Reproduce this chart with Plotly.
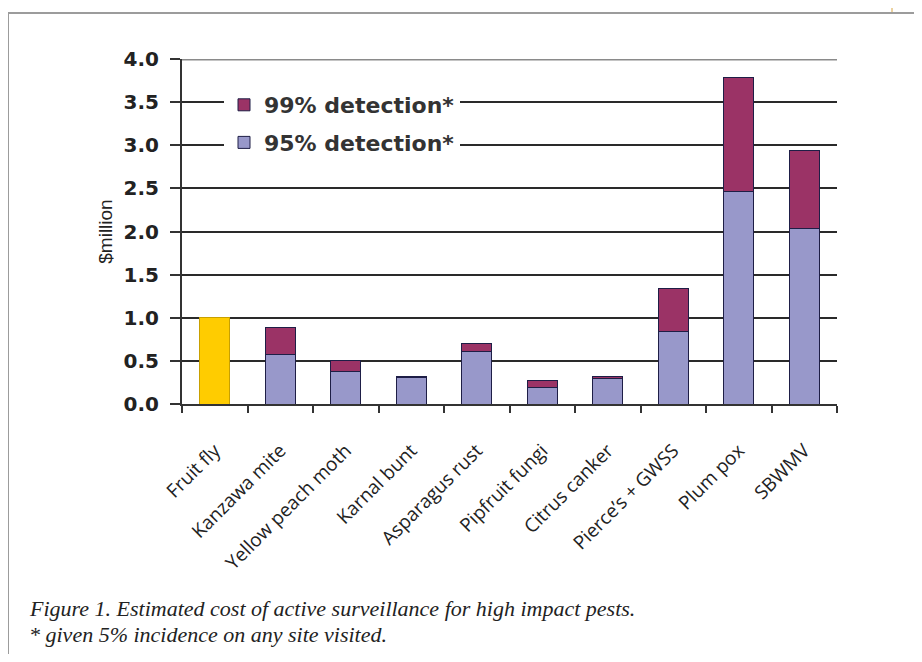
import plotly.graph_objects as go

# ---------------- data ----------------
categories = ["Fruit fly", "Kanzawa mite", "Yellow peach moth", "Karnal bunt",
              "Asparagus rust", "Pipfruit fungi", "Citrus canker",
              "Pierce\u2019s + GWSS", "Plum pox", "SBWMV"]
fruit_fly = [1.0, None, None, None, None, None, None, None, None, None]
detect95 = [None, 0.57, 0.38, 0.31, 0.61, 0.19, 0.30, 0.84, 2.46, 2.03]
detect99_extra = [None, 0.32, 0.13, 0.01, 0.09, 0.08, 0.02, 0.50, 1.32, 0.91]
y_ticks = [0.0, 0.5, 1.0, 1.5, 2.0, 2.5, 3.0, 3.5, 4.0]
y_max = 4.0
caption_lines = ["Figure 1. Estimated cost of active surveillance for high impact pests.",
                 "* given 5% incidence on any site visited."]

# ---------------- layout geometry (window pixels) ----------------
OFF = 8                      # browser body margin
WIN_W, WIN_H = 922, 662
W, H = WIN_W - 2 * OFF, WIN_H - 2 * OFF
L, R, T, B = 182, 837, 59, 404   # plot area in window pixels


def xp(px):
    return (px - L) / (R - L)


def yp(py):
    return (B - py) / (B - T)


OUT = "#1e1e46"
fig = go.Figure()
fig.add_trace(go.Bar(x=categories, y=fruit_fly, name="Fruit fly", showlegend=False,
                     marker=dict(color="#FFCC00", line=dict(color="#c8a000", width=1))))
fig.add_trace(go.Bar(x=categories, y=detect95, name="95% detection*", legendgroup="g95",
                     legendrank=2,
                     marker=dict(color="#9898CA", line=dict(color=OUT, width=1))))
fig.add_trace(go.Bar(x=categories, y=detect99_extra, name="99% detection*", legendgroup="g99",
                     legendrank=1,
                     marker=dict(color="#9B3366", line=dict(color=OUT, width=1))))

shapes = [
    # top gridline (gray, thicker)
    dict(type="line", xref="paper", yref="y", x0=0, x1=1, y0=y_max, y1=y_max,
         line=dict(color="#8a8a8a", width=3), layer="above"),
    # page frame
    dict(type="line", xref="paper", yref="paper", x0=xp(8), x1=xp(8), y0=yp(12), y1=yp(WIN_H + 5),
         line=dict(color="#9c9c9c", width=2)),
    dict(type="line", xref="paper", yref="paper", x0=xp(7), x1=xp(WIN_W + 5), y0=yp(13), y1=yp(13),
         line=dict(color="#9c9c9c", width=2)),
    dict(type="line", xref="paper", yref="paper", x0=xp(892), x1=xp(892), y0=yp(0), y1=yp(12),
         line=dict(color="#ecd2a0", width=2)),
]


def cap_font():
    return dict(family="Liberation Serif, Times New Roman, serif", size=22,
                color="#222222", style="italic")


annotations = [
    dict(text=caption_lines[0], xref="paper", yref="paper", x=xp(27), y=yp(608),
         xanchor="left", yanchor="middle", showarrow=False, font=cap_font()),
    dict(text=caption_lines[1], xref="paper", yref="paper", x=xp(27), y=yp(634),
         xanchor="left", yanchor="middle", showarrow=False, font=cap_font()),
]

fig.update_layout(
    width=W, height=H,
    margin=dict(l=L - OFF, r=W - (R - OFF), t=T - OFF, b=H - (B - OFF), autoexpand=False),
    paper_bgcolor="white", plot_bgcolor="white",
    barmode="stack", bargap=0.54,
    showlegend=True,
    legend=dict(x=xp(224), y=yp(84), xanchor="left", yanchor="top",
                bgcolor="white", borderwidth=0,
                traceorder="grouped", tracegroupgap=6,
                font=dict(family="DejaVu Sans", size=22, color="#333333", weight="bold")),
    shapes=shapes,
    annotations=annotations,
    xaxis=dict(
        type="category", tickangle=-45, tickson="boundaries",
        ticks="outside", ticklen=7, tickwidth=2, tickcolor="#333333",
        showline=True, linecolor="#333333", linewidth=2,
        showgrid=False, ticklabelstandoff=26,
        tickfont=dict(family="Open Sans", size=19, color="#222222"),
    ),
    yaxis=dict(
        range=[0, y_max], tickvals=y_ticks, ticktext=[f"{v:.1f}" for v in y_ticks],
        ticks="outside", ticklen=10, tickwidth=2, tickcolor="#333333",
        showline=True, linecolor="#333333", linewidth=2,
        showgrid=True, gridcolor="#2a2a2a", gridwidth=2,
        zeroline=False, ticklabelstandoff=7,
        tickfont=dict(family="DejaVu Sans", size=20, color="#222222", weight="bold"),
        title=dict(text="$million", standoff=6,
                   font=dict(family="Liberation Sans", size=19, color="#222222")),
    ),
)

fig.write_html("out.html")
